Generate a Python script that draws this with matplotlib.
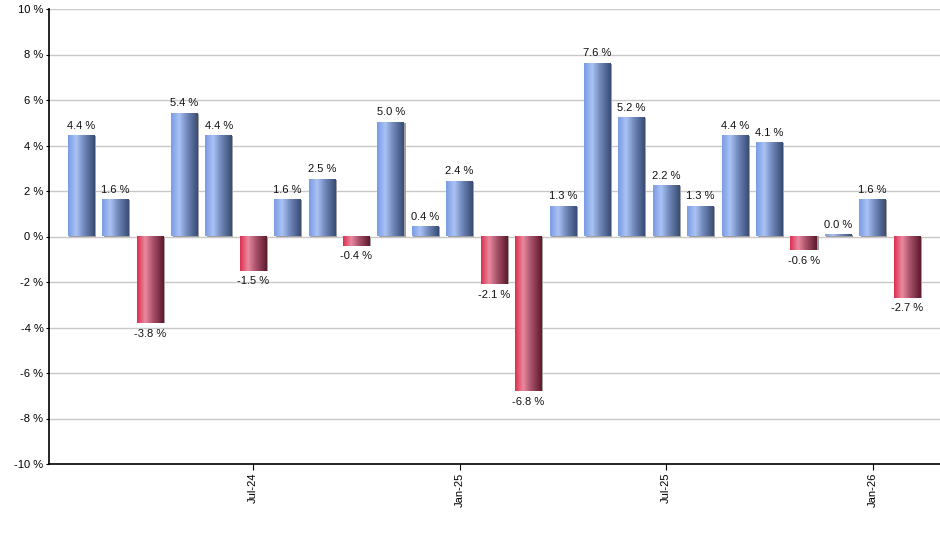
import matplotlib
matplotlib.use("Agg")
import matplotlib.pyplot as plt
import numpy as np
from matplotlib.colors import LinearSegmentedColormap
from matplotlib.patches import Rectangle

months = ["Feb-24", "Mar-24", "Apr-24", "May-24", "Jun-24", "Jul-24", "Aug-24", "Sep-24",
          "Oct-24", "Nov-24", "Dec-24", "Jan-25", "Feb-25", "Mar-25", "Apr-25", "May-25",
          "Jun-25", "Jul-25", "Aug-25", "Sep-25", "Oct-25", "Nov-25", "Dec-25", "Jan-26", "Feb-26"]
values = [4.4, 1.6, -3.8, 5.4, 4.4, -1.5, 1.6, 2.5, -0.4, 5.0, 0.4, 2.4, -2.1, -6.8,
          1.3, 7.6, 5.2, 2.2, 1.3, 4.4, 4.1, -0.6, 0.0, 1.6, -2.7]
shown_ticks = ["Jul-24", "Jan-25", "Jul-25", "Jan-26"]
y_ticks = [-10, -8, -6, -4, -2, 0, 2, 4, 6, 8, 10]

plt.rcParams['font.family'] = ['Liberation Sans', 'DejaVu Sans']

fig = plt.figure(figsize=(9.4, 5.5), dpi=100)
ax = fig.add_axes([49/940, 1-464/550, 1-49/940, (464-9)/550])

blue_cmap = LinearSegmentedColormap.from_list(
    "b", [(0, "#7a9ce6"), (0.3, "#aac3f4"), (0.6, "#7088bb"), (1.0, "#394c74")])
red_cmap = LinearSegmentedColormap.from_list(
    "r", [(0, "#dc2f50"), (0.3, "#ea8aa0"), (0.6, "#a8506a"), (1.0, "#5e1a2c")])
grad = np.linspace(0, 1, 64).reshape(1, -1)

x = np.arange(len(values))
w = 0.77
for xi, v in zip(x, values):
    x0, x1 = xi - w/2, xi + w/2
    top = v if v != 0 else 0.06
    lo, hi = min(0, top), max(0, top)
    # shadow on right edge
    ax.add_patch(Rectangle((x0 + 0.045, lo), w, hi - lo, color="#a0a0a0", zorder=2, lw=0))
    cmap = blue_cmap if v >= 0 else red_cmap
    ax.imshow(grad, cmap=cmap, extent=[x0, x1, lo, hi], aspect='auto', zorder=3,
              interpolation='bilinear')
    if v >= 0:
        ax.annotate(f"{v:.1f} %", (xi, hi), xytext=(0, 4), textcoords="offset points",
                    ha="center", va="bottom", fontsize=8, color="#111111", zorder=4)
    else:
        ax.annotate(f"{v:.1f} %", (xi, lo), xytext=(0, -4), textcoords="offset points",
                    ha="center", va="top", fontsize=8, color="#111111", zorder=4)

ax.set_xlim(-0.93, len(values) - 1 + 0.96)
ax.set_ylim(-10, 10)
ax.set_yticks(y_ticks)
ax.set_yticklabels([f"{t} %" for t in y_ticks], fontsize=8)
tick_pos = [months.index(m) for m in shown_ticks]
ax.set_xticks(tick_pos)
ax.set_xticklabels(shown_ticks, rotation=90, fontsize=8)
ax.grid(axis='y', color="#c8c8c8", lw=1, zorder=0)
ax.set_axisbelow(True)
for s in ["top", "right"]:
    ax.spines[s].set_visible(False)
for s in ["left", "bottom"]:
    ax.spines[s].set_color("black")
    ax.spines[s].set_linewidth(1.2)
ax.tick_params(axis='y', length=2, pad=2)
ax.tick_params(axis='x', length=4, pad=2)

fig.savefig("out.png", dpi=100)
